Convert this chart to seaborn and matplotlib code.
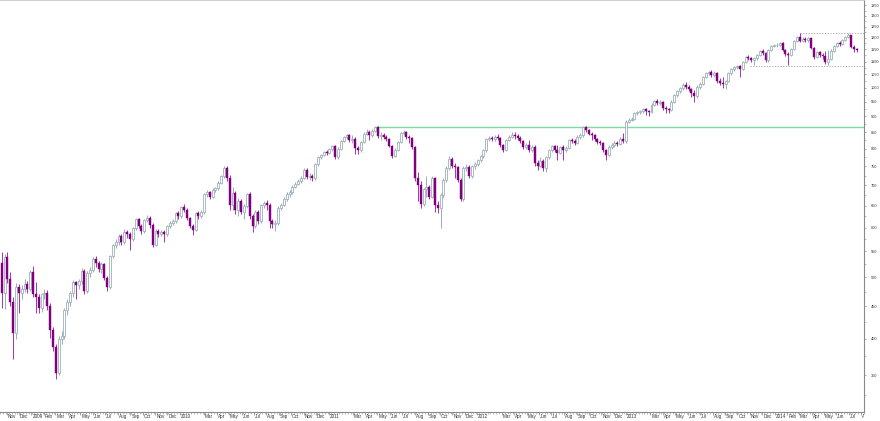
import numpy as np
import pandas as pd
import matplotlib
matplotlib.use("Agg")
import matplotlib.pyplot as plt
import matplotlib.ticker as mticker
from matplotlib.transforms import Bbox, blended_transform_factory
import seaborn as sns

# ---------------- data (weekly candles) ----------------
start_date = "2008-10-20"
first_open = 528

closes = [
    472, 538, 497, 458, 408, 483, 472, 480, 489, 480,
    510, 470, 465, 447, 470, 473, 450, 413, 388, 353,
    399, 404, 444, 458, 472, 491, 486, 493, 512, 476,
    508, 514, 535, 528, 515, 525, 499, 483, 540, 563,
    570, 582, 570, 590, 585, 575, 598, 618, 603, 592,
    617, 622, 606, 563, 592, 586, 590, 586, 603, 610,
    614, 632, 625, 647, 640, 621, 603, 595, 632, 625,
    634, 677, 682, 672, 688, 692, 707, 723, 745, 720,
    651, 680, 640, 662, 636, 648, 677, 626, 603, 635,
    614, 651, 656, 652, 614, 607, 610, 645, 651, 667,
    677, 682, 697, 704, 712, 720, 740, 722, 724, 718,
    756, 775, 782, 790, 788, 798, 808, 776, 800, 823,
    835, 840, 826, 830, 801, 796, 820, 845, 852, 840,
    855, 866, 838, 842, 836, 830, 809, 780, 797, 820,
    847, 852, 835, 832, 805, 720, 700, 655, 690, 697,
    671, 719, 651, 645, 675, 714, 745, 770, 752, 748,
    714, 667, 745, 749, 723, 750, 758, 768, 778, 795,
    829, 833, 828, 836, 831, 812, 796, 826, 835, 840,
    837, 833, 822, 805, 812, 796, 806, 760, 752, 766,
    745, 775, 795, 808, 795, 788, 805, 797, 803, 826,
    822, 818, 836, 840, 865, 857, 845, 840, 828, 820,
    817, 795, 783, 806, 812, 816, 814, 830, 822, 883,
    889, 893, 910, 915, 918, 924, 918, 915, 940, 953,
    946, 950, 930, 925, 922, 950, 972, 986, 998, 1010,
    1003, 996, 980, 970, 1003, 1015, 1040, 1053, 1058, 1048,
    1055, 1025, 1018, 1012, 1025, 1053, 1070, 1078, 1082, 1072,
    1098, 1118, 1115, 1106, 1113, 1127, 1141, 1134, 1106, 1147,
    1165, 1167, 1170, 1176, 1148, 1130, 1128, 1150, 1185, 1204,
    1186, 1195, 1188, 1197, 1155, 1118, 1138, 1128, 1122, 1100,
    1112, 1145, 1165, 1175, 1172, 1190, 1204, 1210, 1162, 1150,
    1147,
]

highs = [
    548, 545, 548, 510, 465, 490, 488, 486, 497, 494,
    514, 522, 492, 471, 473, 480, 478, 455, 417, 392,
    404, 412, 448, 463, 476, 495, 493, 498, 518, 516,
    512, 520, 538, 540, 532, 530, 528, 503, 543, 566,
    575, 586, 587, 596, 594, 590, 601, 622, 621, 608,
    620, 627, 626, 610, 596, 597, 595, 594, 606, 614,
    618, 636, 638, 650, 655, 645, 624, 608, 636, 637,
    639, 680, 688, 686, 692, 697, 711, 727, 750, 752,
    726, 697, 685, 668, 666, 654, 681, 682, 630, 640,
    640, 655, 662, 664, 656, 618, 616, 648, 656, 670,
    682, 688, 700, 709, 717, 724, 745, 745, 731, 730,
    760, 779, 786, 794, 796, 802, 812, 812, 804, 827,
    839, 845, 843, 840, 834, 808, 824, 849, 860, 856,
    859, 869, 868, 850, 846, 840, 833, 812, 801, 824,
    850, 857, 855, 842, 836, 809, 735, 712, 694, 725,
    700, 724, 722, 662, 680, 718, 750, 778, 776, 760,
    752, 718, 750, 756, 754, 755, 762, 772, 783, 799,
    833, 838, 839, 842, 844, 834, 815, 830, 840, 850,
    852, 843, 837, 826, 818, 826, 812, 810, 768, 775,
    770, 779, 799, 812, 812, 811, 809, 810, 808, 830,
    832, 828, 840, 846, 868, 868, 860, 852, 844, 832,
    826, 820, 800, 810, 817, 822, 822, 834, 848, 887,
    894, 898, 914, 919, 923, 929, 928, 922, 946, 957,
    958, 955, 954, 936, 930, 955, 976, 990, 1002, 1016,
    1022, 1010, 1000, 992, 1008, 1020, 1045, 1058, 1064, 1066,
    1062, 1060, 1036, 1040, 1030, 1057, 1075, 1083, 1088, 1088,
    1102, 1124, 1125, 1120, 1120, 1131, 1146, 1150, 1140, 1152,
    1170, 1173, 1176, 1181, 1180, 1152, 1140, 1155, 1190, 1209,
    1219, 1202, 1204, 1203, 1200, 1160, 1144, 1145, 1134, 1141,
    1147, 1150, 1170, 1180, 1185, 1195, 1209, 1219, 1214, 1167,
    1157,
]

lows = [
    447, 445, 490, 450, 372, 400, 440, 462, 474, 472,
    476, 466, 440, 440, 441, 462, 444, 401, 382, 345,
    350, 392, 400, 436, 450, 466, 462, 480, 488, 470,
    472, 500, 510, 520, 510, 508, 495, 476, 480, 536,
    556, 564, 562, 566, 578, 553, 572, 594, 598, 585,
    588, 612, 600, 558, 560, 580, 581, 569, 582, 598,
    606, 610, 620, 622, 636, 616, 598, 584, 592, 618,
    621, 630, 672, 667, 668, 684, 689, 703, 720, 712,
    640, 640, 630, 626, 630, 620, 644, 620, 591, 600,
    608, 611, 644, 640, 600, 600, 592, 606, 640, 648,
    662, 672, 678, 692, 700, 707, 716, 716, 715, 710,
    714, 752, 770, 778, 782, 784, 794, 770, 772, 797,
    819, 830, 820, 818, 784, 785, 792, 817, 840, 825,
    836, 850, 833, 826, 830, 822, 804, 774, 776, 793,
    816, 842, 830, 818, 800, 712, 660, 645, 650, 670,
    665, 668, 636, 632, 600, 668, 708, 740, 746, 719,
    708, 660, 662, 738, 718, 720, 744, 752, 763, 773,
    790, 823, 822, 824, 826, 806, 790, 793, 822, 831,
    830, 826, 816, 798, 800, 790, 790, 752, 740, 748,
    738, 735, 770, 790, 790, 768, 784, 768, 792, 800,
    816, 812, 814, 830, 836, 852, 840, 826, 822, 814,
    810, 790, 768, 780, 800, 806, 808, 810, 816, 818,
    878, 884, 889, 904, 909, 912, 905, 900, 911, 935,
    940, 938, 922, 912, 912, 918, 946, 966, 980, 992,
    996, 988, 968, 950, 962, 996, 1010, 1034, 1046, 1040,
    1040, 1018, 1008, 1000, 995, 1020, 1048, 1064, 1070, 1040,
    1068, 1093, 1108, 1098, 1087, 1108, 1122, 1126, 1100, 1100,
    1142, 1158, 1160, 1164, 1142, 1122, 1087, 1124, 1146, 1180,
    1180, 1180, 1180, 1182, 1150, 1110, 1114, 1120, 1109, 1092,
    1087, 1108, 1140, 1160, 1166, 1168, 1186, 1198, 1155, 1138,
    1140,
]

month_labels = (
    ["Nov", "Dec"]
    + ["2009", "Feb", "Mar", "Apr", "May", "Jun", "Jul", "Aug", "Sep", "Oct", "Nov", "Dec"]
    + ["2010", "Mar", "Apr", "May", "Jun", "Jul", "Aug", "Sep", "Oct", "Nov", "Dec"]
    + ["2011", "Mar", "Apr", "May", "Jun", "Jul", "Aug", "Sep", "Oct", "Nov", "Dec"]
    + ["2012", "Mar", "Apr", "May", "Jun", "Jul", "Aug", "Sep", "Oct", "Nov", "Dec"]
    + ["2013", "Mar", "Apr", "May", "Jun", "Jul", "Aug", "Sep", "Oct", "Nov", "Dec"]
    + ["2014", "Feb", "Mar", "Apr", "May", "Jun", "Jul", "Aug"]
)
y_tick_values = [350, 400, 450, 500, 550, 600, 650, 700, 750, 800, 850, 900,
                 950, 1000, 1050, 1100, 1150, 1200, 1250, 1300, 1350]

resistance_level = 866      # green horizontal line
resistance_start = 131      # week index where it starts
range_high = 1219           # dotted range lines
range_high_start = 280
range_low = 1082
range_low_start = 262.6

# ---------------- styling ----------------
sns.set_theme(style="white")
plt.rcParams["font.family"] = ["Liberation Sans", "DejaVu Sans"]

UP_EDGE = "#9db1b9"
DOWN = "#800080"
DOWN_WICK = "#a040a0"
AXIS = "#8a8a8a"
TEXT = "#333333"

n = len(closes)
dates = pd.date_range(start_date, periods=n, freq="7D")
opens = [first_open] + closes[:-1]
df = pd.DataFrame({"date": dates, "open": opens, "high": highs,
                   "low": lows, "close": closes})
df["x"] = np.arange(n)
df["up"] = df["close"] >= df["open"]

W, H = 880, 421
fig = plt.figure(figsize=(W / 100, H / 100), dpi=100)
right_px, bottom_px = 864, 412
ax = fig.add_axes([0, (H - bottom_px) / H, right_px / W, bottom_px / H])
ax.set_yscale("log")

x_min = -0.6
x_max = (right_px - 1.7) / 2.85
ax.set_xlim(x_min, x_max)
ax.set_ylim(306, 1377)

# wicks
for is_up, col in ((True, UP_EDGE), (False, DOWN_WICK)):
    d = df[df["up"] == is_up]
    ax.vlines(d["x"], d["low"], d["high"], color=col, lw=0.75, zorder=2)

# bodies
bw = 0.7
up = df[df["up"]]
dn = df[~df["up"]]
up_h = np.maximum(up["close"] - up["open"], up["close"] * 0.003)
dn_h = np.maximum(dn["open"] - dn["close"], dn["close"] * 0.003)
ax.bar(up["x"], up_h, bottom=up["open"], width=bw, color="white",
       edgecolor=UP_EDGE, linewidth=0.6, zorder=3)
ax.bar(dn["x"], dn_h, bottom=dn["close"], width=bw, color=DOWN,
       edgecolor=DOWN, linewidth=0.3, zorder=3)

# resistance line (seaborn)
sns.lineplot(x=[resistance_start, x_max], y=[resistance_level, resistance_level],
             color="#7fdaa8", lw=1.0, ax=ax, zorder=1)
# dotted range lines
ax.hlines(range_high, range_high_start, x_max, colors="#a9a9a9",
          linestyles=(0, (1.2, 1.6)), lw=0.7, zorder=1)
ax.hlines(range_low, range_low_start, x_max, colors="#a9a9a9",
          linestyles=(0, (1.2, 1.6)), lw=0.7, zorder=1)

# y axis on the right
ax.yaxis.tick_right()
ax.yaxis.set_major_locator(mticker.FixedLocator(y_tick_values))
ax.yaxis.set_major_formatter(mticker.FixedFormatter([str(v) for v in y_tick_values]))
minor_vals = [v + 25 for v in y_tick_values[:-1]] + [325]
ax.yaxis.set_minor_locator(mticker.FixedLocator(minor_vals))
ax.yaxis.set_minor_formatter(mticker.NullFormatter())
ax.tick_params(axis="y", which="major", right=True, left=False, length=1.6,
               width=0.5, color=AXIS, labelcolor=TEXT, labelsize=2.8, pad=3.0)
ax.tick_params(axis="y", which="minor", right=True, left=False, length=1.1,
               width=0.4, color=AXIS)

# x axis: weekly minor ticks, month labels
month_starts = pd.date_range("2008-11-01", "2014-08-01", freq="MS")
month_starts = [m for m in month_starts
                if not (m.month == 2 and 2010 <= m.year <= 2013)]
t0 = pd.Timestamp(start_date)
month_pos = [(m - t0).days / 7.0 for m in month_starts]
ax.xaxis.set_major_locator(mticker.FixedLocator(month_pos))
ax.xaxis.set_major_formatter(mticker.NullFormatter())
ax.xaxis.set_minor_locator(mticker.FixedLocator(np.arange(-0.5, x_max, 1.0)))
ax.tick_params(axis="x", which="major", bottom=True, length=2.0, width=0.5, color=AXIS)
ax.tick_params(axis="x", which="minor", bottom=True, length=1.3, width=0.4, color=AXIS)

trans = blended_transform_factory(ax.transData, ax.transAxes)
clip = Bbox([[0, 0], [right_px, H]])
for pos, lab in zip(month_pos, month_labels):
    t = ax.text(pos + 0.35, -0.006, lab, transform=trans, ha="left", va="top",
                fontsize=3.3, color=TEXT, clip_on=False)
    t.set_clip_box(clip)
    t.set_clip_on(True)

ax.spines["left"].set_visible(False)
for side in ("right", "bottom"):
    ax.spines[side].set_visible(True)
    ax.spines[side].set_color(AXIS)
    ax.spines[side].set_linewidth(0.8)
ax.spines["top"].set_visible(True)
ax.spines["top"].set_color("#c8c8c8")
ax.spines["top"].set_linewidth(0.6)

ax.set_xlabel("")
ax.set_ylabel("")
ax.grid(False)
if ax.get_legend() is not None:
    ax.get_legend().remove()

fig.savefig("out.png", dpi=100, facecolor="white")
